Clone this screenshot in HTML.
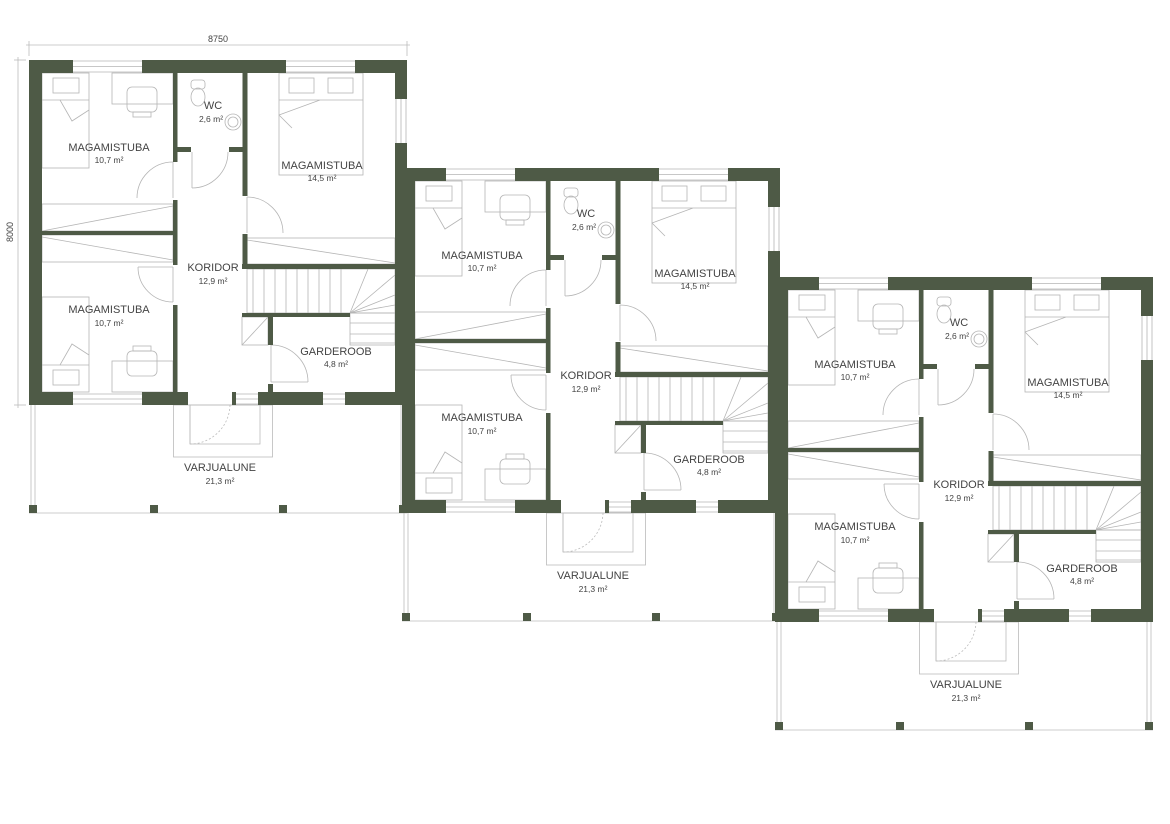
<!DOCTYPE html>
<html><head><meta charset="utf-8"><style>
html,body{margin:0;padding:0;background:#fff;width:1170px;height:824px;overflow:hidden}
svg{display:block}
text{font-family:"Liberation Sans",sans-serif;fill:#444;text-anchor:middle}
.l{font-size:11px}.a{font-size:8.5px}
</style></head><body>
<svg width="1170" height="824" viewBox="0 0 1170 824" xmlns="http://www.w3.org/2000/svg">
<defs>
<g id="u">
 <g fill="none" stroke="#bbb" stroke-width="0.8">
  <line x1="31" y1="405" x2="31" y2="513"/><line x1="35" y1="405" x2="35" y2="513"/>
  <line x1="29" y1="513" x2="407" y2="513"/>
  <line x1="401" y1="405" x2="401" y2="513"/><line x1="405" y1="405" x2="405" y2="513"/>
  <rect x="173.5" y="405" width="99" height="52"/>
  <rect x="190" y="405" width="70" height="39"/>
  <line x1="190" y1="405" x2="190" y2="444"/>
  <path d="M230 405 A40 40 0 0 1 190 444" stroke-dasharray="2,2"/>
 </g>
 <g fill="#4e5a46">
  <rect x="29" y="505" width="8" height="8"/><rect x="150" y="505" width="8" height="8"/><rect x="279" y="505" width="8" height="8"/><rect x="399" y="505" width="8" height="8"/>
 </g>
 <g fill="none" stroke="#b5b5b5" stroke-width="0.8">
  <rect x="42" y="73" width="47" height="95"/>
  <rect x="53" y="78" width="26" height="15"/>
  <path d="M42 100 L60 100 L72 121 L89 110"/><line x1="60" y1="100" x2="89" y2="100"/>
  <rect x="112" y="73" width="61" height="31"/>
  <rect x="127" y="87" width="30" height="25" rx="5"/><rect x="133" y="112" width="18" height="5"/>
  <rect x="42" y="204" width="131" height="27"/><line x1="42" y1="231" x2="173" y2="206"/>
  <rect x="42" y="235" width="131" height="27"/><line x1="42" y1="237" x2="173" y2="260"/>
  <rect x="42" y="297" width="47" height="95"/>
  <rect x="53" y="370" width="26" height="15"/>
  <path d="M42 365 L60 365 L72 344 L89 355"/><line x1="60" y1="365" x2="89" y2="365"/>
  <rect x="112" y="361" width="61" height="31"/>
  <rect x="127" y="351" width="30" height="25" rx="5"/><rect x="133" y="346" width="18" height="5"/>
  <rect x="279" y="73" width="84" height="102"/>
  <rect x="289" y="78" width="25" height="15"/><rect x="328" y="78" width="25" height="15"/>
  <path d="M279 100 L363 100 M279 115 L320 100 M279 115 L292 128"/>
  <rect x="247" y="238" width="148" height="26"/><line x1="247" y1="240" x2="395" y2="263"/>
  <rect x="191" y="80" width="14" height="9" rx="3"/><ellipse cx="198" cy="97" rx="7" ry="9"/>
  <circle cx="233" cy="122" r="8"/><circle cx="233" cy="122" r="5"/>
  <rect x="247" y="269" width="148" height="44"/>
  <path d="M253 269V313M264 269V313M275 269V313M286 269V313M297 269V313M308 269V313M319 269V313M330 269V313M341 269V313"/>
  <path d="M350 313 L368 269 M350 313 L395 275 M350 313 L395 295 M350 313 L395 305"/>
  <rect x="350" y="313" width="45" height="32"/>
  <path d="M350 323H395M350 334H395M350 343H395"/>
  <rect x="242" y="317" width="26" height="28"/><line x1="242" y1="345" x2="268" y2="317"/>
  <line x1="173" y1="162" x2="173" y2="198"/><path d="M173 162 A36 36 0 0 0 137 198"/>
  <line x1="173" y1="267" x2="173" y2="302"/><path d="M138 267 A35 35 0 0 0 173 302"/><line x1="138" y1="267" x2="173" y2="267"/>
  <line x1="192" y1="152" x2="192" y2="188"/><path d="M228 152 A36 36 0 0 1 192 188"/>
  <line x1="247" y1="197" x2="247" y2="233"/><path d="M247 197 A36 36 0 0 1 283 233"/>
  <line x1="271" y1="345" x2="271" y2="382"/><path d="M271 345 A37 37 0 0 1 308 382"/><line x1="271" y1="382" x2="308" y2="382"/>
  <path d="M73 61H142M73 66.5H142M73 72H142"/>
  <path d="M286 61H355M286 66.5H355M286 72H355"/>
  <path d="M396 99V143M401 99V143M406 99V143"/>
  <path d="M73 394H142M73 399H142M73 404H142"/>
  <path d="M236 394H258M236 399H258M236 404H258"/>
  <path d="M323 394H345M323 399H345M323 404H345"/>
 </g>
 <g fill="#4e5a46">
  <rect x="29" y="60" width="13" height="345"/>
  <rect x="29" y="60" width="44" height="13"/><rect x="142" y="60" width="144" height="13"/><rect x="355" y="60" width="52" height="13"/>
  <rect x="395" y="60" width="12" height="39"/><rect x="395" y="143" width="12" height="262"/>
  <rect x="29" y="392" width="44" height="13"/><rect x="142" y="392" width="46" height="13"/><rect x="232" y="392" width="4" height="13"/><rect x="258" y="392" width="65" height="13"/><rect x="345" y="392" width="62" height="13"/>
  <rect x="173" y="73" width="4.5" height="89"/><rect x="173" y="200" width="4.5" height="65"/><rect x="173" y="305" width="4.5" height="87"/>
  <rect x="42" y="231" width="131" height="4"/>
  <rect x="242.5" y="73" width="5" height="123"/><rect x="242.5" y="234" width="5" height="35"/>
  <rect x="177" y="147" width="14" height="5"/><rect x="229" y="147" width="14" height="5"/>
  <rect x="242" y="264" width="153" height="5"/>
  <rect x="242" y="313" width="108" height="4"/>
  <rect x="268" y="317" width="5" height="28"/><rect x="268" y="384" width="5" height="8"/>
 </g>
</g>
</defs>
<g stroke="#bbb" stroke-width="0.8" fill="none">
 <line x1="26" y1="45" x2="410" y2="45"/><line x1="29" y1="41" x2="29" y2="56"/><line x1="407" y1="41" x2="407" y2="56"/>
 <line x1="18" y1="57" x2="18" y2="408"/><line x1="14" y1="60" x2="26" y2="60"/><line x1="14" y1="405" x2="26" y2="405"/>
</g>
<text x="218" y="42" style="font-size:9px">8750</text>
<text x="13" y="232" style="font-size:9px" transform="rotate(-90 13 232)">8000</text>

<use href="#u"/>
<use href="#u" transform="translate(373,108)"/>
<use href="#u" transform="translate(746,217)"/>

<g>
<text class="l" x="109" y="151">MAGAMISTUBA</text><text class="a" x="109" y="163">10,7 m²</text>
<text class="l" x="213" y="109">WC</text><text class="a" x="211" y="122">2,6 m²</text>
<text class="l" x="322" y="169">MAGAMISTUBA</text><text class="a" x="322" y="181">14,5 m²</text>
<text class="l" x="213" y="271">KORIDOR</text><text class="a" x="213" y="284">12,9 m²</text>
<text class="l" x="109" y="313">MAGAMISTUBA</text><text class="a" x="109" y="326">10,7 m²</text>
<text class="l" x="336" y="355">GARDEROOB</text><text class="a" x="336" y="367">4,8 m²</text>
<text class="l" x="220" y="471">VARJUALUNE</text><text class="a" x="220" y="484">21,3 m²</text>
</g>
<g transform="translate(373,108)">
<text class="l" x="109" y="151">MAGAMISTUBA</text><text class="a" x="109" y="163">10,7 m²</text>
<text class="l" x="213" y="109">WC</text><text class="a" x="211" y="122">2,6 m²</text>
<text class="l" x="322" y="169">MAGAMISTUBA</text><text class="a" x="322" y="181">14,5 m²</text>
<text class="l" x="213" y="271">KORIDOR</text><text class="a" x="213" y="284">12,9 m²</text>
<text class="l" x="109" y="313">MAGAMISTUBA</text><text class="a" x="109" y="326">10,7 m²</text>
<text class="l" x="336" y="355">GARDEROOB</text><text class="a" x="336" y="367">4,8 m²</text>
<text class="l" x="220" y="471">VARJUALUNE</text><text class="a" x="220" y="484">21,3 m²</text>
</g>
<g transform="translate(746,217)">
<text class="l" x="109" y="151">MAGAMISTUBA</text><text class="a" x="109" y="163">10,7 m²</text>
<text class="l" x="213" y="109">WC</text><text class="a" x="211" y="122">2,6 m²</text>
<text class="l" x="322" y="169">MAGAMISTUBA</text><text class="a" x="322" y="181">14,5 m²</text>
<text class="l" x="213" y="271">KORIDOR</text><text class="a" x="213" y="284">12,9 m²</text>
<text class="l" x="109" y="313">MAGAMISTUBA</text><text class="a" x="109" y="326">10,7 m²</text>
<text class="l" x="336" y="355">GARDEROOB</text><text class="a" x="336" y="367">4,8 m²</text>
<text class="l" x="220" y="471">VARJUALUNE</text><text class="a" x="220" y="484">21,3 m²</text>
</g>
</svg>
</body></html>
